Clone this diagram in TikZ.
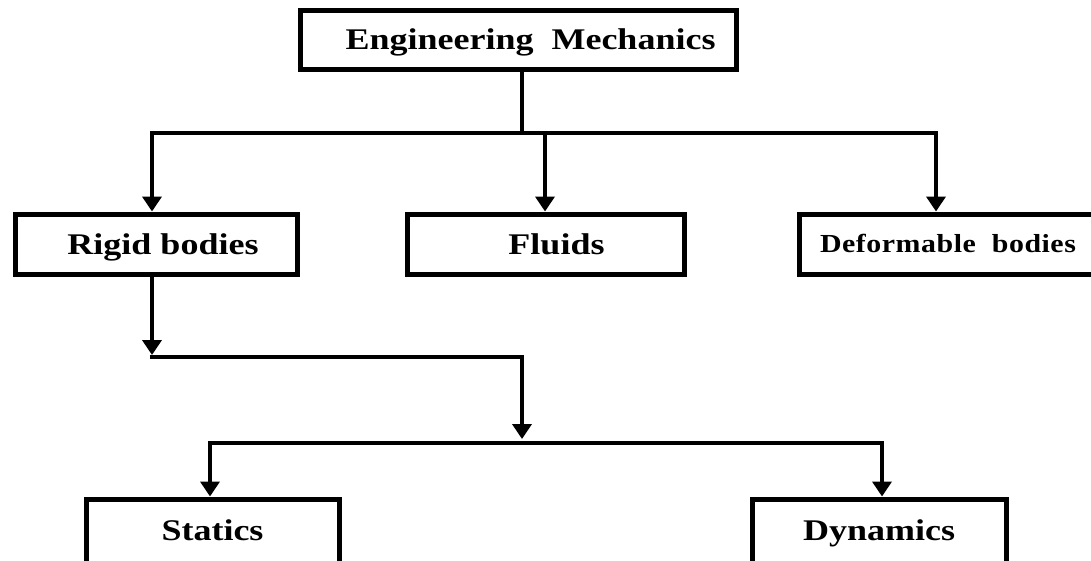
\documentclass[tikz,border=0pt]{standalone}
\usepackage{fontspec}
\usetikzlibrary{arrows.meta}
\newfontfamily\bigf[FakeStretch=1.2]{Liberation Serif Bold}
\newfontfamily\spacedf[FakeStretch=1.15,LetterSpace=2]{Liberation Serif Bold}
\begin{document}
\begin{tikzpicture}[x=1pt,y=-1pt,
  box/.style={draw, line width=5pt, inner sep=0pt, font=\bigf\fontsize{30pt}{32pt}\selectfont,
    text height=20pt, text depth=0pt},
  conn/.style={line width=4.5pt, line cap=rect},
  arr/.style={line width=4.5pt, -{Triangle[width=19pt,length=15pt]}}]
\useasboundingbox (0,0) rectangle (1091,560);
\clip (0,0) rectangle (1091,560);
% boxes
\node[box, minimum width=436pt, minimum height=59pt] (em) at (518.5,39.5) {\hspace*{24pt}Engineering\ \ Mechanics};
\node[box, minimum width=282pt, minimum height=60pt] (rigid) at (156,244) {\hspace*{14pt}Rigid bodies};
\node[box, minimum width=277pt, minimum height=60pt] (fluids) at (545.5,244) {\hspace*{22pt}Fluids};
\node[box, minimum width=311pt, minimum height=60pt, font=\spacedf\fontsize{26pt}{28pt}\selectfont, text height=17pt] (deform) at (954.5,244) {Deformable\ \ bodies\hspace*{13pt}};
\node[box, minimum width=253pt, minimum height=70pt, text depth=8pt] (statics) at (212.5,534) {Statics};
\node[box, minimum width=254pt, minimum height=70pt, text depth=8pt] (dynamics) at (879,534) {Dynamics};
% junctions
\coordinate (j0) at (522,133);
\coordinate (hL) at (152,133);
\coordinate (hM) at (545,133);
\coordinate (hR) at (936,133);
\coordinate (k1) at (152,357);
\coordinate (k2) at (522,357);
\coordinate (m) at (522,443);
\coordinate (mL) at (210,443);
\coordinate (mR) at (882,443);
% connectors
\draw[conn] (em.south -| j0) -- (j0);
\draw[conn] (hL) -- (hR);
\draw[arr] (hL) -- (hL |- rigid.north);
\draw[arr] (hM) -- (hM |- fluids.north);
\draw[arr] (hR) -- (hR |- deform.north);
\draw[arr, shorten >=2pt] (rigid.south -| k1) -- (k1);
\draw[conn] (k1) -- (k2);
\draw[arr, shorten >=4pt] (k2) -- (m);
\draw[conn] (mL) -- (mR);
\draw[arr] (mL) -- (mL |- statics.north);
\draw[arr] (mR) -- (mR |- dynamics.north);
\end{tikzpicture}
\end{document}
